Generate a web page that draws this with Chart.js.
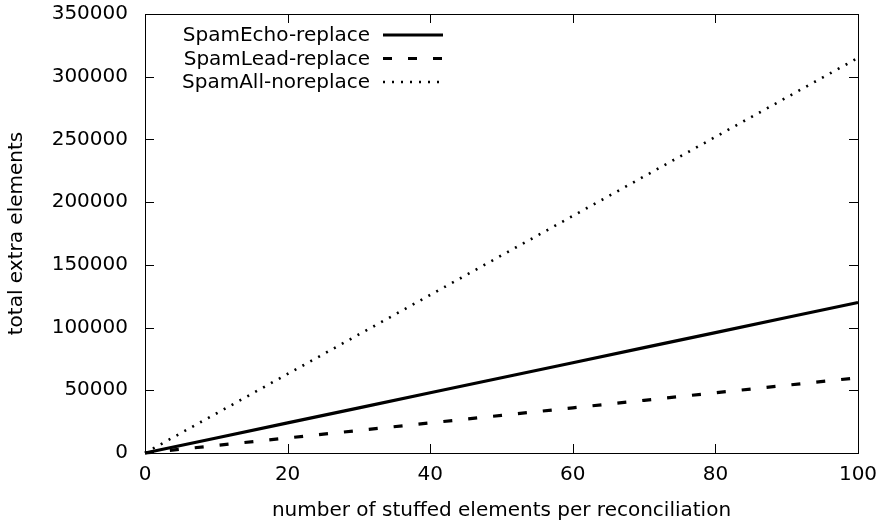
<!DOCTYPE html>
<html lang="en">
<head>
    <meta charset="UTF-8">
    <title>Stuffed elements</title>
    <style>
        body {
            margin: 0;
            background: #fff;
        }
    </style>
    <script src="https://cdn.jsdelivr.net/npm/chart.js"></script>
</head>
<body>
    <canvas id="stuffChart" width="882" height="524"></canvas>
<script>
    // stuffed elements per reconciliation
    const stuffed = [0, 10, 20, 30, 40, 50, 60, 70, 80, 90, 100];
    const spamEcho = [0, 12000, 24000, 36000, 48000, 60000, 72000, 84000, 96000, 108000, 120000];
    const spamLead = [0, 6000, 12000, 18000, 24000, 30000, 36000, 42000, 48000, 54000, 60000];
    const spamAll = [0, 31500, 63000, 94500, 126000, 157500, 189000, 220500, 252000, 283500, 315000];
    const seriesNames = ['SpamEcho-replace', 'SpamLead-replace', 'SpamAll-noreplace'];
    const xTicks = [0, 20, 40, 60, 80, 100];
    const yTicks = [0, 50000, 100000, 150000, 200000, 250000, 300000, 350000];

    const font = { family: 'DejaVu Sans', size: 20 };

    function pts(ys) {
        return stuffed.map((x, i) => ({ x: x, y: ys[i] }));
    }

    // no extra room for overhanging tick labels, the layout padding decides
    function noOverhang(scale) {
        scale.paddingTop = 0;
        scale.paddingBottom = 0;
        scale.paddingLeft = 0;
        scale.paddingRight = 0;
    }

    // gnuplot style frame, inward mirror ticks and key inside the plot
    const framePlugin = {
        id: 'frame',
        afterDatasetsDraw(chart) {
            const ctx = chart.ctx;
            const a = chart.chartArea;
            const xs = chart.scales.x;
            const ys = chart.scales.y;
            const tl = 9;
            ctx.save();
            ctx.strokeStyle = '#000';
            ctx.lineWidth = 1;
            ctx.setLineDash([]);
            ctx.beginPath();
            xTicks.forEach(v => {
                const px = Math.round(xs.getPixelForValue(v)) + 0.5;
                ctx.moveTo(px, a.bottom); ctx.lineTo(px, a.bottom - tl);
                ctx.moveTo(px, a.top); ctx.lineTo(px, a.top + tl);
            });
            yTicks.forEach(v => {
                const py = Math.round(ys.getPixelForValue(v)) + 0.5;
                ctx.moveTo(a.left, py); ctx.lineTo(a.left + tl, py);
                ctx.moveTo(a.right, py); ctx.lineTo(a.right - tl, py);
            });
            ctx.stroke();
            ctx.strokeRect(Math.round(a.left) + 0.5, Math.round(a.top) + 0.5,
                Math.round(a.right - a.left), Math.round(a.bottom - a.top));

            // key
            ctx.font = font.size + 'px "' + font.family + '"';
            ctx.fillStyle = '#000';
            ctx.textAlign = 'right';
            ctx.textBaseline = 'middle';
            const rows = [35, 58.5, 82];
            chart.data.datasets.forEach((ds, i) => {
                const y = rows[i];
                ctx.fillText(ds.label, 370, y + 1);
                ctx.beginPath();
                ctx.lineWidth = ds.borderWidth;
                ctx.setLineDash(ds.borderDash || []);
                ctx.moveTo(383, y);
                ctx.lineTo(443, y);
                ctx.stroke();
            });
            ctx.restore();
        }
    };

    const ctx = document.getElementById('stuffChart').getContext('2d');
    const stuffChart = new Chart(ctx, {
        type: 'line',
        data: {
            datasets: [{
                label: seriesNames[0],
                data: pts(spamEcho),
                borderColor: '#000',
                borderWidth: 3.2,
                pointRadius: 0,
                clip: false
            }, {
                label: seriesNames[1],
                data: pts(spamLead),
                borderColor: '#000',
                borderWidth: 3.2,
                borderDash: [9, 16],
                pointRadius: 0,
                clip: false
            }, {
                label: seriesNames[2],
                data: pts(spamAll),
                borderColor: '#000',
                borderWidth: 2.6,
                borderDash: [2, 7],
                pointRadius: 0,
                clip: false
            }]
        },
        options: {
            responsive: false,
            animation: false,
            devicePixelRatio: 1,
            layout: {
                padding: { top: 14, right: 24, left: 0, bottom: 0 }
            },
            plugins: {
                legend: { display: false },
                tooltip: { enabled: false }
            },
            scales: {
                x: {
                    type: 'linear',
                    min: 0,
                    max: 100,
                    afterFit(scale) { scale.height = 71; noOverhang(scale); },
                    afterBuildTicks(scale) { scale.ticks = xTicks.map(v => ({ value: v })); },
                    grid: { display: false, drawTicks: false },
                    border: { display: false },
                    ticks: { color: '#000', font: font, padding: 10, maxRotation: 0, callback: v => String(v) },
                    title: {
                        display: true,
                        text: 'number of stuffed elements per reconciliation',
                        color: '#000',
                        font: font,
                        padding: { top: 0, bottom: 1 }
                    }
                },
                y: {
                    min: 0,
                    max: 350000,
                    afterFit(scale) { scale.width = 145; noOverhang(scale); },
                    afterBuildTicks(scale) { scale.ticks = yTicks.map(v => ({ value: v })); },
                    grid: { display: false, drawTicks: false },
                    border: { display: false },
                    ticks: { color: '#000', font: font, padding: 17, callback: v => String(v) },
                    title: {
                        display: true,
                        text: 'total extra elements',
                        color: '#000',
                        font: font,
                        padding: { top: 5, bottom: 0 }
                    }
                }
            }
        },
        plugins: [framePlugin]
    });
</script>
</body>
</html>
